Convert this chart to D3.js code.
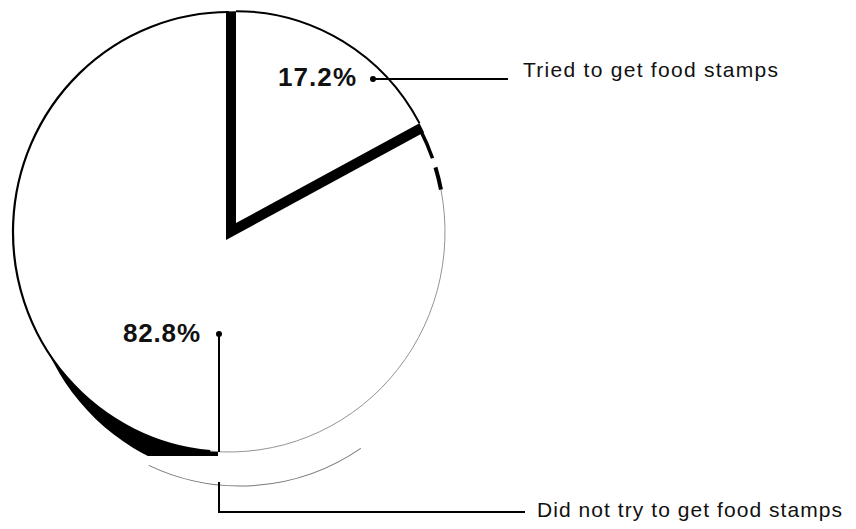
<!DOCTYPE html>
<html>
<head>
  <style>
    body { margin: 0; background: white; }
    svg { display: block; }
    .pct { font-family: "Liberation Sans", Arial, sans-serif; font-weight: bold; font-size: 26px; fill: #111; }
    .cat { font-family: "Liberation Sans", Arial, sans-serif; font-size: 21px; fill: #111; }
  </style>
</head>
<body>
  <div id="chart"></div>
  <script src="https://cdnjs.cloudflare.com/ajax/libs/d3/7.8.5/d3.min.js"></script>
  <script>
    // Data
    const categories = ["Tried to get food stamps", "Did not try to get food stamps"];
    const values = [17.2, 82.8];
    const valueLabels = ["17.2%", "82.8%"];

    // Layout
    const width = 856, height = 529;
    const cx = 229, cy = 232;        // centre of the pie top face
    const R = 216, sy = 220 / 216;   // slightly taller than wide
    const smallC = { x: 236, y: 223 }; // exploded slice vertex
    const Rs = 208;
    const deg = Math.PI / 180;

    const slices = d3.pie().sort(null).value(d => d)(values);
    const tried = slices[0], notTried = slices[1];

    const svg = d3.select("#chart").append("svg")
      .attr("width", width)
      .attr("height", height);
    const defs = svg.append("defs");

    // open arc helper (angles in radians, 0 = 12 o'clock, clockwise)
    function arcLine(r, a0, a1) {
      const p = d3.path();
      p.moveTo(r * Math.sin(a0), -r * Math.cos(a0));
      p.arc(0, 0, r, a0 - Math.PI / 2, a1 - Math.PI / 2);
      return p.toString();
    }
    const wedge = d3.arc().innerRadius(0);

    // lower rim of the pie (thin grey line)
    svg.append("g")
      .attr("transform", `translate(${cx + 11},${cy + 34}) scale(1,${sy})`)
      .append("path")
      .attr("d", arcLine(R, 146 * deg, 205 * deg))
      .attr("fill", "none")
      .attr("stroke", "#777")
      .attr("stroke-width", 1);

    // dark side wall on the lower left
    defs.append("clipPath").attr("id", "wallClip")
      .append("rect")
      .attr("x", 0).attr("y", 0)
      .attr("width", cx - 11).attr("height", cy + 224);
    svg.append("g").attr("clip-path", "url(#wallClip)")
      .append("g")
      .attr("transform", `translate(${cx + 15},${cy + 27}) scale(1,${sy})`)
      .append("path")
      .attr("d", wedge.outerRadius(R)(notTried))
      .attr("fill", "#000");

    // big slice top face
    const big = svg.append("g")
      .attr("transform", `translate(${cx},${cy}) scale(1,${sy})`);
    big.append("path")
      .attr("d", wedge.outerRadius(R)(notTried))
      .attr("fill", "white");

    const a0 = notTried.startAngle;
    const outline = [
      { from: a0 + 0.5 * deg, to: a0 + 8.5 * deg, color: "#000", w: 3.5 },
      { from: a0 + 11 * deg, to: a0 + 17 * deg, color: "#000", w: 4 },
      { from: a0 + 17 * deg, to: 185 * deg, color: "#888", w: 0.9 },
      { from: 185 * deg, to: notTried.endAngle, color: "#000", w: 2.2 }
    ];
    big.selectAll("path.rim")
      .data(outline)
      .join("path")
      .attr("class", "rim")
      .attr("d", d => arcLine(R, d.from, d.to))
      .attr("fill", "none")
      .attr("stroke", d => d.color)
      .attr("stroke-width", d => d.w);

    // exploded slice: black edges then white face
    const small = svg.append("g")
      .attr("transform", `translate(${smallC.x},${smallC.y}) scale(1,${sy})`);
    defs.append("clipPath").attr("id", "sliceClip")
      .append("circle")
      .attr("r", Rs);
    small.append("g").attr("clip-path", "url(#sliceClip)")
      .append("path")
      .attr("transform", `translate(-10,${17 / sy})`)
      .attr("d", wedge.outerRadius(Rs + 40)(tried))
      .attr("fill", "#000");
    small.append("path")
      .attr("d", wedge.outerRadius(Rs)(tried))
      .attr("fill", "white");
    small.append("path")
      .attr("d", arcLine(Rs, tried.startAngle, tried.endAngle))
      .attr("fill", "none")
      .attr("stroke", "#000")
      .attr("stroke-width", 2);

    // labels with leader lines
    const notes = [
      { dot: [373, 79], path: [[373, 79], [508, 79]], pctX: 356, pctY: 86, pctLen: 78,
        catX: 523, catY: 77, catLen: 255 },
      { dot: [219, 334], path: [[219, 482], [219, 512], [525, 512]], stub: [[219, 334], [219, 452]],
        pctX: 200, pctY: 342, pctLen: 77, catX: 537, catY: 517, catLen: 305 }
    ];
    const line = d3.line();
    notes.forEach((n, i) => {
      const g = svg.append("g");
      g.append("path").attr("d", line(n.path))
        .attr("fill", "none").attr("stroke", "#000").attr("stroke-width", 2);
      if (n.stub) {
        g.append("path").attr("d", line(n.stub))
          .attr("fill", "none").attr("stroke", "#000").attr("stroke-width", 2);
      }
      g.append("circle").attr("cx", n.dot[0]).attr("cy", n.dot[1]).attr("r", 3).attr("fill", "#000");
      g.append("text").attr("class", "pct")
        .attr("x", n.pctX - n.pctLen).attr("y", n.pctY)
        .attr("textLength", n.pctLen).attr("lengthAdjust", "spacing")
        .text(valueLabels[i]);
      g.append("text").attr("class", "cat")
        .attr("x", n.catX).attr("y", n.catY)
        .attr("textLength", n.catLen).attr("lengthAdjust", "spacing")
        .text(categories[i]);
    });
  </script>
</body>
</html>
